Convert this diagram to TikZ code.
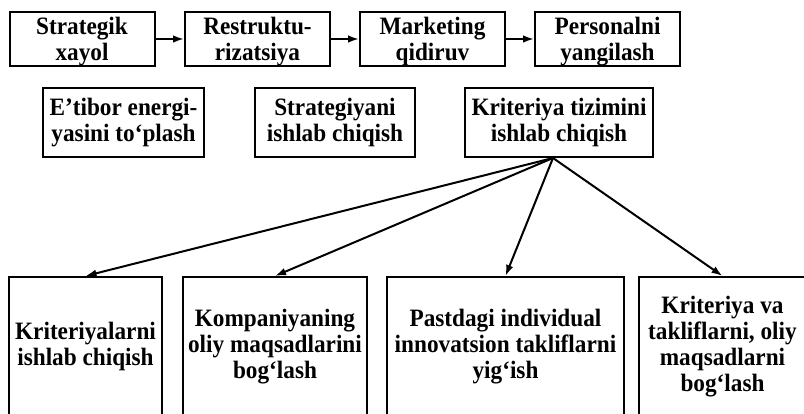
\documentclass[tikz,border=0pt]{standalone}
\usepackage{fontspec}
\setmainfont{Liberation Serif}[FakeStretch=0.93]
\usetikzlibrary{arrows.meta}
\tikzset{
  box/.style={draw, line width=1pt, align=center, inner sep=0pt,
    font=\fontsize{12.5}{13}\selectfont\bfseries},
  topbox/.style={box, minimum width=72.5pt, minimum height=27pt, text depth=-1pt},
  midbox/.style={box, minimum height=34.5pt},
  lowbox/.style={box, minimum height=69.5pt},
  link/.style={line width=1pt, -{Latex[length=5.5pt,width=3.8pt]}}
}

\begin{document}
\begin{tikzpicture}[x=0.5pt,y=-0.5pt]
  \useasboundingbox (0,0) rectangle (804,413);
  \clip (0,0) rectangle (804,413);
  % chain of stages
  \node[topbox] (s1) at (82,39) {Strategik\\xayol};
  \node[topbox] (s2) at (257.5,39) {Restruktu-\\rizatsiya};
  \node[topbox] (s3) at (432.5,39) {Marketing\\qidiruv};
  \node[topbox] (s4) at (607.5,39) {Personalni\\yangilash};
  \foreach \a/\b in {s1/s2,s2/s3,s3/s4}
    \draw[link] (\a) -- (\b);
  % middle row
  \node[midbox, minimum width=80.5pt] (m1) at (123.5,122.5) {E’tibor energi-\\yasini to‘plash};
  \node[midbox, minimum width=80pt] (m2) at (335,122.5) {Strategiyani\\ishlab chiqish};
  \node[midbox, minimum width=94pt] (krit) at (559,122.5) {Kriteriya tizimini\\ishlab chiqish};
  % lower row
  \node[lowbox, minimum width=76.5pt] (b1) at (85.5,346.5) {Kriteriyalarni\\ishlab chiqish};
  \node[lowbox, minimum width=92pt] (b2) at (275,346.5) {Kompaniyaning\\oliy maqsadlarini\\bog‘lash};
  \node[lowbox, minimum width=118.5pt] (b3) at (505.5,346.5) {Pastdagi individual\\innovatsion takliflarni\\yig‘ish};
  \node[lowbox, minimum width=83.5pt] (b4) at (722.5,346.5) {Kriteriya va\\takliflarni, oliy\\maqsadlarni\\bog‘lash};
  \coordinate (hub) at ([xshift=-3pt]krit.south);
  \foreach \b in {b1,b2,b3,b4}
    \draw[link] (hub) -- (\b.north);
\end{tikzpicture}
\end{document}
